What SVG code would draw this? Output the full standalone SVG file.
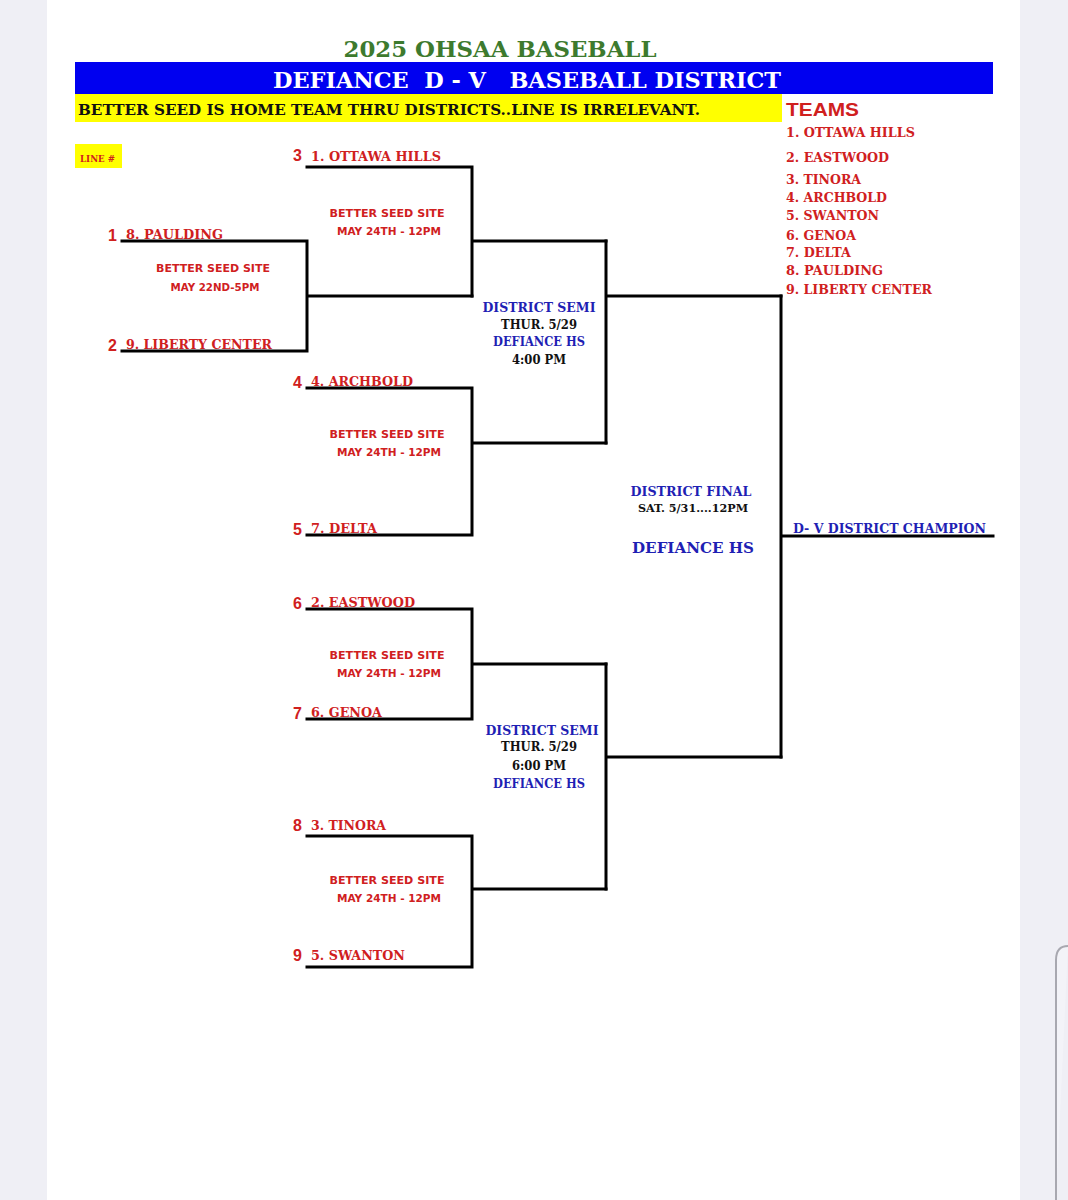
<svg xmlns="http://www.w3.org/2000/svg" width="1068" height="1200" viewBox="0 0 1068 1200">
<style>
.ser{font-family:"DejaVu Serif","Liberation Serif",serif;font-weight:bold}
.sans{font-family:"Liberation Sans",Arial,sans-serif;font-weight:bold}
.red{fill:#d0201e}
.blue{fill:#1f1fb4}
.blk{fill:#111}
.team{font-size:12.5px}
.num{font-size:16px}
.site{font-size:11px;font-family:"DejaVu Sans","Liberation Sans",sans-serif;font-weight:bold}
.ln{stroke:#000;stroke-width:3;fill:none;stroke-linecap:square}
</style>
<rect x="0" y="0" width="1068" height="1200" fill="#efeff5"/>
<rect x="47" y="0" width="973" height="1200" fill="#ffffff"/>
<path d="M1056,1200 V960 Q1056,946 1068,946" fill="#f3f3f8" stroke="#a8a8b0" stroke-width="2"/>
<g id="header">
<text x="500" y="57" text-anchor="middle" class="ser" font-size="23" fill="#3d7a2e" textLength="313" lengthAdjust="spacingAndGlyphs">2025 OHSAA BASEBALL</text>
<rect x="75" y="62" width="918" height="32" fill="#0000f0"/>
<text x="527" y="88" text-anchor="middle" class="ser" font-size="23" fill="#ffffff" textLength="508" lengthAdjust="spacingAndGlyphs" xml:space="preserve">DEFIANCE  D - V   BASEBALL DISTRICT</text>
<rect x="75" y="94" width="707" height="28" fill="#ffff00"/>
<text x="78" y="115" class="ser" font-size="15" fill="#111" textLength="622" lengthAdjust="spacingAndGlyphs">BETTER SEED IS HOME TEAM THRU DISTRICTS..LINE IS IRRELEVANT.</text>
<rect x="75" y="144" width="47" height="24" fill="#ffff00"/>
<text x="80" y="162" class="ser red" font-size="9" textLength="35" lengthAdjust="spacingAndGlyphs">LINE #</text>
</g>
<g id="teams-list">
<text x="786" y="116" class="sans red" font-size="19" textLength="73" lengthAdjust="spacingAndGlyphs">TEAMS</text>
<text x="786" y="137" class="ser red team" textLength="129" lengthAdjust="spacingAndGlyphs">1. OTTAWA HILLS</text>
<text x="786" y="162" class="ser red team" textLength="103" lengthAdjust="spacingAndGlyphs">2. EASTWOOD</text>
<text x="786" y="184" class="ser red team" textLength="75" lengthAdjust="spacingAndGlyphs">3. TINORA</text>
<text x="786" y="202" class="ser red team" textLength="101" lengthAdjust="spacingAndGlyphs">4. ARCHBOLD</text>
<text x="786" y="220" class="ser red team" textLength="93" lengthAdjust="spacingAndGlyphs">5. SWANTON</text>
<text x="786" y="240" class="ser red team" textLength="70" lengthAdjust="spacingAndGlyphs">6. GENOA</text>
<text x="786" y="257" class="ser red team" textLength="65" lengthAdjust="spacingAndGlyphs">7. DELTA</text>
<text x="786" y="275" class="ser red team" textLength="97" lengthAdjust="spacingAndGlyphs">8. PAULDING</text>
<text x="786" y="294" class="ser red team" textLength="146" lengthAdjust="spacingAndGlyphs">9. LIBERTY CENTER</text>
</g>
<g id="connectors">
<path class="ln" d="M122,241 H307 M122,351 H307 M307,241 V351 M307,296 H472"/>
<path class="ln" d="M307,167 H472 V296 M472,241 H606"/>
<path class="ln" d="M307,388 H472 M307,535 H472 M472,388 V535 M472,443 H606"/>
<path class="ln" d="M606,241 V443 M606,296 H781"/>
<path class="ln" d="M307,609 H472 M307,719 H472 M472,609 V719 M472,664 H606"/>
<path class="ln" d="M307,836 H472 M307,967 H472 M472,836 V967 M472,889 H606"/>
<path class="ln" d="M606,664 V889 M606,757 H781"/>
<path class="ln" d="M781,296 V757 M781,536 H993"/>
</g>
<g id="line1">
<text x="108" y="241" class="sans red num">1</text>
<text x="126" y="239" class="ser red team" textLength="97" lengthAdjust="spacingAndGlyphs">8. PAULDING</text>
</g>
<g id="line2">
<text x="108" y="351" class="sans red num">2</text>
<text x="126" y="349" class="ser red team" textLength="146" lengthAdjust="spacingAndGlyphs">9. LIBERTY CENTER</text>
</g>
<g id="game-play-in">
<text x="213" y="272" text-anchor="middle" class="red site" textLength="114" lengthAdjust="spacingAndGlyphs">BETTER SEED SITE</text>
<text x="215" y="291" text-anchor="middle" class="red site" textLength="89" lengthAdjust="spacingAndGlyphs">MAY 22ND-5PM</text>
</g>
<g id="line3">
<text x="293" y="161" class="sans red num">3</text>
<text x="311" y="161" class="ser red team" textLength="130" lengthAdjust="spacingAndGlyphs">1. OTTAWA HILLS</text>
</g>
<g id="game-a">
<text x="387" y="217" text-anchor="middle" class="red site" textLength="115" lengthAdjust="spacingAndGlyphs">BETTER SEED SITE</text>
<text x="389" y="235" text-anchor="middle" class="red site" textLength="104" lengthAdjust="spacingAndGlyphs">MAY 24TH - 12PM</text>
</g>
<g id="line4">
<text x="293" y="388" class="sans red num">4</text>
<text x="311" y="386" class="ser red team" textLength="102" lengthAdjust="spacingAndGlyphs">4. ARCHBOLD</text>
</g>
<g id="line5">
<text x="293" y="535" class="sans red num">5</text>
<text x="311" y="533" class="ser red team" textLength="66" lengthAdjust="spacingAndGlyphs">7. DELTA</text>
</g>
<g id="game-b">
<text x="387" y="438" text-anchor="middle" class="red site" textLength="115" lengthAdjust="spacingAndGlyphs">BETTER SEED SITE</text>
<text x="389" y="456" text-anchor="middle" class="red site" textLength="104" lengthAdjust="spacingAndGlyphs">MAY 24TH - 12PM</text>
</g>
<g id="semi-1">
<text x="539" y="312" text-anchor="middle" class="ser blue" font-size="13" textLength="113" lengthAdjust="spacingAndGlyphs">DISTRICT SEMI</text>
<text x="539" y="329" text-anchor="middle" class="ser blk" font-size="12" textLength="76" lengthAdjust="spacingAndGlyphs">THUR. 5/29</text>
<text x="539" y="346" text-anchor="middle" class="ser blue" font-size="12" textLength="92" lengthAdjust="spacingAndGlyphs">DEFIANCE HS</text>
<text x="539" y="364" text-anchor="middle" class="ser blk" font-size="12" textLength="54" lengthAdjust="spacingAndGlyphs">4:00 PM</text>
</g>
<g id="line6">
<text x="293" y="609" class="sans red num">6</text>
<text x="311" y="607" class="ser red team" textLength="104" lengthAdjust="spacingAndGlyphs">2. EASTWOOD</text>
</g>
<g id="line7">
<text x="293" y="719" class="sans red num">7</text>
<text x="311" y="717" class="ser red team" textLength="71" lengthAdjust="spacingAndGlyphs">6. GENOA</text>
</g>
<g id="game-c">
<text x="387" y="659" text-anchor="middle" class="red site" textLength="115" lengthAdjust="spacingAndGlyphs">BETTER SEED SITE</text>
<text x="389" y="677" text-anchor="middle" class="red site" textLength="104" lengthAdjust="spacingAndGlyphs">MAY 24TH - 12PM</text>
</g>
<g id="line8">
<text x="293" y="831" class="sans red num">8</text>
<text x="311" y="830" class="ser red team" textLength="75" lengthAdjust="spacingAndGlyphs">3. TINORA</text>
</g>
<g id="line9">
<text x="293" y="961" class="sans red num">9</text>
<text x="311" y="960" class="ser red team" textLength="94" lengthAdjust="spacingAndGlyphs">5. SWANTON</text>
</g>
<g id="game-d">
<text x="387" y="884" text-anchor="middle" class="red site" textLength="115" lengthAdjust="spacingAndGlyphs">BETTER SEED SITE</text>
<text x="389" y="902" text-anchor="middle" class="red site" textLength="104" lengthAdjust="spacingAndGlyphs">MAY 24TH - 12PM</text>
</g>
<g id="semi-2">
<text x="542" y="735" text-anchor="middle" class="ser blue" font-size="13" textLength="113" lengthAdjust="spacingAndGlyphs">DISTRICT SEMI</text>
<text x="539" y="751" text-anchor="middle" class="ser blk" font-size="12" textLength="76" lengthAdjust="spacingAndGlyphs">THUR. 5/29</text>
<text x="539" y="770" text-anchor="middle" class="ser blk" font-size="12" textLength="54" lengthAdjust="spacingAndGlyphs">6:00 PM</text>
<text x="539" y="788" text-anchor="middle" class="ser blue" font-size="12" textLength="92" lengthAdjust="spacingAndGlyphs">DEFIANCE HS</text>
</g>
<g id="final">
<text x="691" y="496" text-anchor="middle" class="ser blue" font-size="13" textLength="121" lengthAdjust="spacingAndGlyphs">DISTRICT FINAL</text>
<text x="693" y="512" text-anchor="middle" class="ser blk" font-size="11" textLength="110" lengthAdjust="spacingAndGlyphs">SAT. 5/31....12PM</text>
<text x="693" y="553" text-anchor="middle" class="ser blue" font-size="15" textLength="122" lengthAdjust="spacingAndGlyphs">DEFIANCE HS</text>
</g>
<g id="champion">
<text x="793" y="533" class="ser blue" font-size="12" textLength="193" lengthAdjust="spacingAndGlyphs">D- V DISTRICT CHAMPION</text>
</g>
</svg>
